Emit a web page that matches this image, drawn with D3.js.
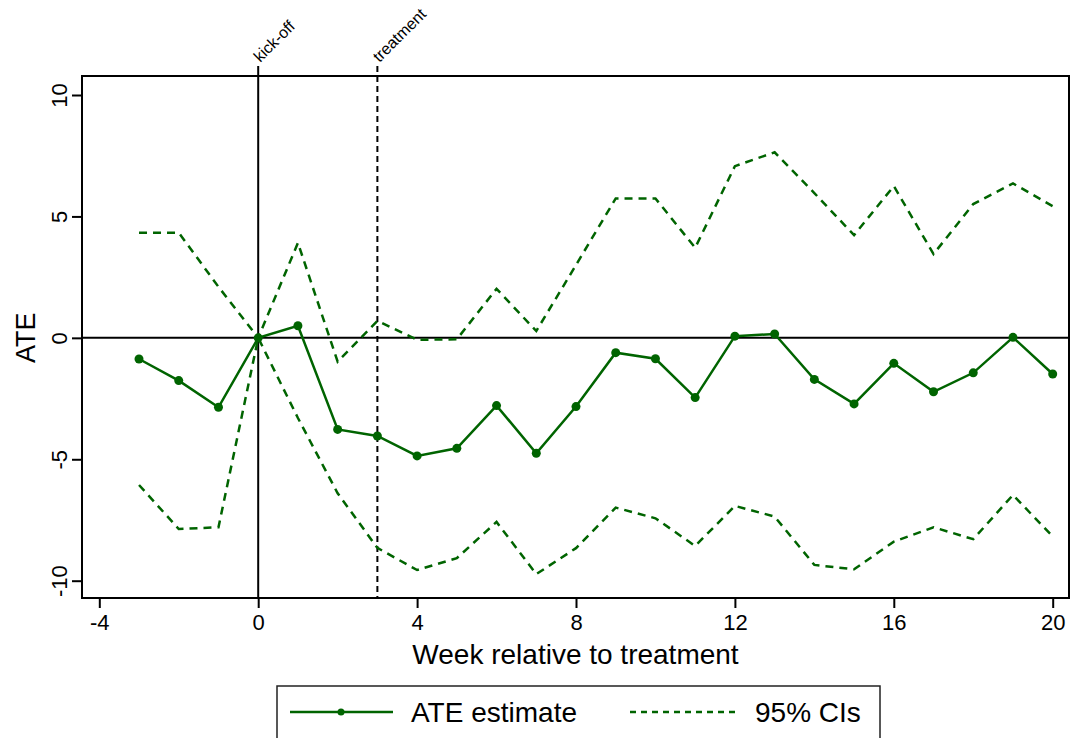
<!DOCTYPE html>
<html>
<head>
<meta charset="utf-8">
<script src="https://cdn.jsdelivr.net/npm/d3@7"></script>
<style>
  body { margin: 0; background: #fff; }
  svg { display: block; font-family: "Liberation Sans", Arial, Helvetica, sans-serif; }
</style>
</head>
<body>
<div id="chart"></div>
<script>
// weeks relative to treatment
let weeks = [-3,-2,-1,0,1,2,3,4,5,6,7,8,9,10,11,12,13,14,15,16,17,18,19,20]
// point estimates
let ate = [-0.87,-1.76,-2.86,0,0.5,-3.77,-4.04,-4.86,-4.55,-2.79,-4.75,-2.83,-0.61,-0.86,-2.46,0.07,0.16,-1.71,-2.72,-1.05,-2.22,-1.44,0.02,-1.49]
// 95% confidence bounds
let ciUpper = [4.33,4.33,2.1,0,3.91,-0.98,0.7,-0.08,-0.06,2.02,0.28,3.0,5.74,5.74,3.71,7.07,7.64,5.96,4.23,6.25,3.45,5.51,6.36,5.42]
let ciLower = [-6.06,-7.87,-7.8,0,-3.3,-6.4,-8.65,-9.56,-9.07,-7.58,-9.73,-8.66,-6.99,-7.43,-8.57,-6.92,-7.36,-9.35,-9.53,-8.39,-7.8,-8.29,-6.47,-8.18]

let xTicks = [-4,0,4,8,12,16,20]
let yTicks = [-10,-5,0,5,10]
let markers = [{week:0,label:"kick-off",dash:null},{week:3,label:"treatment",dash:"6,4"}]
let legendItems = ["ATE estimate","95% CIs"]

let width=1072, height=738
let green="#006400"
let plotLeft=82, plotRight=1069, plotTop=76, plotBottom=598

const svg=d3.select("#chart").append("svg").attr("width",width).attr("height",height)

const xScale=d3.scaleLinear().domain([-4,20]).range([99.3,1052.7])
const yScale=d3.scaleLinear().domain([-10,10]).range([580.7,95])

// plot frame
svg.append("rect").attr("x",plotLeft).attr("y",plotTop).attr("width",plotRight-plotLeft).attr("height",plotBottom-plotTop)
  .attr("fill","none").attr("stroke","#000").attr("stroke-width",2)

// axes
const xAxis=d3.axisBottom(xScale).tickValues(xTicks).tickSize(10).tickPadding(6).tickFormat(d=>String(d))
const gx=svg.append("g").attr("transform","translate(0,"+plotBottom+")").call(xAxis)
gx.select(".domain").remove()
gx.selectAll(".tick line").attr("stroke","#000").attr("stroke-width",2)
gx.selectAll(".tick text").attr("font-size",22).attr("fill","#000").attr("font-family","Liberation Sans, Arial, sans-serif")

const yAxis=d3.axisLeft(yScale).tickValues(yTicks).tickSize(10).tickFormat(d=>String(d))
const gy=svg.append("g").attr("transform","translate("+plotLeft+",0)").call(yAxis)
gy.select(".domain").remove()
gy.selectAll(".tick line").attr("stroke","#000").attr("stroke-width",2)
gy.selectAll(".tick text").attr("font-size",22).attr("fill","#000").attr("font-family","Liberation Sans, Arial, sans-serif")
  .attr("x",null).attr("dy",null).attr("text-anchor","middle")
  .attr("transform","translate(-15,0) rotate(-90)")

// zero line
svg.append("line").attr("x1",plotLeft).attr("x2",plotRight).attr("y1",yScale(0)).attr("y2",yScale(0))
  .attr("stroke","#000").attr("stroke-width",2)

// kick-off and treatment lines
markers.forEach(m=>{
  let mx=xScale(m.week)
  svg.append("line").attr("x1",mx).attr("x2",mx).attr("y1",66).attr("y2",plotBottom)
    .attr("stroke","#000").attr("stroke-width",2).attr("stroke-dasharray",m.dash)
  svg.append("text").attr("transform","translate("+(mx+2)+",63) rotate(-45)")
    .attr("font-size",16).attr("fill","#000").text(m.label)
})

// series
const line=d3.line().x((d,i)=>xScale(weeks[i])).y(d=>yScale(d))
svg.append("path").datum(ciUpper).attr("d",line).attr("fill","none").attr("stroke",green).attr("stroke-width",2.5).attr("stroke-dasharray","8,6")
svg.append("path").datum(ciLower).attr("d",line).attr("fill","none").attr("stroke",green).attr("stroke-width",2.5).attr("stroke-dasharray","8,6")
svg.append("path").datum(ate).attr("d",line).attr("fill","none").attr("stroke",green).attr("stroke-width",2.5)
svg.selectAll("circle.pt").data(ate).enter().append("circle").attr("class","pt")
  .attr("cx",(d,i)=>xScale(weeks[i])).attr("cy",d=>yScale(d)).attr("r",4.5).attr("fill",green)

// axis titles
svg.append("text").attr("x",(plotLeft+plotRight)/2).attr("y",664).attr("text-anchor","middle").attr("font-size",28).attr("fill","#000").text("Week relative to treatment")
svg.append("text").attr("transform","translate(35,"+yScale(0)+") rotate(-90)").attr("text-anchor","middle").attr("font-size",27).attr("fill","#000").text("ATE")

// legend
const lg=svg.append("g")
lg.append("rect").attr("x",277).attr("y",686).attr("width",603).attr("height",60).attr("fill","none").attr("stroke","#222").attr("stroke-width",1.5)
lg.append("line").attr("x1",290).attr("x2",393).attr("y1",712).attr("y2",712).attr("stroke",green).attr("stroke-width",2.5)
lg.append("circle").attr("cx",341).attr("cy",712).attr("r",3.5).attr("fill",green)
lg.append("text").attr("x",411).attr("y",722).attr("font-size",28).attr("fill","#000").text(legendItems[0])
lg.append("line").attr("x1",630).attr("x2",735).attr("y1",712).attr("y2",712).attr("stroke",green).attr("stroke-width",2.5).attr("stroke-dasharray","6,5")
lg.append("text").attr("x",755).attr("y",722).attr("font-size",28).attr("fill","#000").text(legendItems[1])
</script>
</body>
</html>
